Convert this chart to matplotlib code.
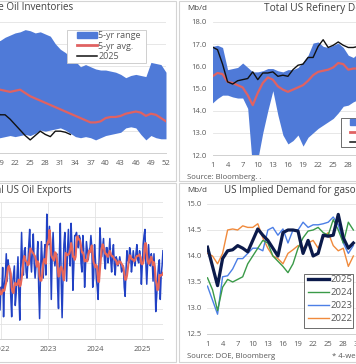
import numpy as np
import pandas as pd
import matplotlib
matplotlib.use("Agg")
import matplotlib.pyplot as plt
from matplotlib.patches import Rectangle, Patch
from matplotlib.lines import Line2D

plt.rcParams['font.family'] = ['Open Sans', 'DejaVu Sans']

W, H = 356, 364

# ---- panel 1: crude inventories (weeks 1..52) ----
weeks = list(range(1, 53))
inv_max = [470, 475, 480, 485, 488, 490, 492, 493, 494, 494, 495, 495, 494, 494, 493, 493, 493, 493,
           493, 496, 498, 500, 501, 503, 502, 500, 501, 499, 497, 490, 485, 482, 478, 474, 469, 471,
           469, 467, 466, 466, 465, 464, 462, 459, 461, 462, 461, 460, 473, 472, 471, 464]
inv_min = [420, 418, 416, 414, 412, 410, 409, 408, 407, 406, 405, 405, 405, 404, 404, 404, 404, 404,
           404, 405, 406, 405, 406, 407, 406, 408, 411, 410, 411, 412, 413, 411, 408, 405, 404, 405,
           404, 402, 404, 406, 407, 408, 409, 413, 414, 413, 407, 402, 406, 404, 403, 403]
inv_avg = [440, 441, 443, 446, 448, 450, 452, 453, 453, 452, 451, 450, 450, 449, 449, 448, 448, 448,
           448, 447, 446, 447, 448, 445, 442, 440, 438, 436, 434, 432, 430, 428, 426, 424, 422, 420,
           418, 418, 419, 422, 423, 423, 424, 426, 427, 428, 427, 424, 426, 425, 422, 419]
inv_2025 = [415, 413, 415, 420, 425, 430, 433, 437, 440, 440, 442, 443, 442, 440, 438, 436, 435, 430,
            425, 425, 421, 416, 411, 406, 402, 406, 410, 407, 405, 410, 410, 409, 407]

# ---- panel 2: refinery demand ----
ref_max = [16.9, 16.95, 16.85, 15.85, 15.9, 15.95, 16.15, 15.95, 15.75, 15.75, 15.8, 15.9, 15.9,
           15.8, 15.75, 15.85, 15.85, 15.95, 16.2, 16.5, 17.05, 17.1, 16.9, 16.85, 16.95, 17.05,
           16.85, 16.5, 16.4, 16.6, 16.7, 16.8, 16.7, 16.6, 16.5, 16.4, 16.3, 16.2, 16.0, 15.9,
           16.1, 16.3, 16.5, 16.6, 16.7, 16.8, 16.9, 16.9, 16.8, 16.7, 16.6, 16.5]
ref_min = [14.35, 14.55, 14.7, 14.7, 14.62, 14.57, 14.57, 14.1, 11.3, 11.8, 13.0, 14.0, 14.9, 13.8,
           12.9, 12.5, 12.65, 12.9, 12.4, 12.8, 13.0, 13.2, 13.35, 13.5, 13.65, 13.9, 14.2, 14.25,
           14.4, 14.5, 14.6, 14.5, 14.4, 14.2, 14.0, 13.8, 13.6, 13.5, 13.6, 13.8, 14.2, 14.5,
           14.7, 14.8, 14.9, 15.0, 15.0, 14.9, 14.8, 14.7, 14.6, 14.5]
ref_avg = [15.55, 15.7, 15.65, 15.3, 15.25, 15.15, 15.05, 14.7, 14.25, 14.8, 15.25, 15.5, 15.4,
           15.1, 14.95, 14.85, 14.95, 15.05, 15.15, 15.35, 15.6, 15.75, 15.8, 15.85, 15.95, 16.15,
           16.1, 15.85, 15.9, 15.9, 15.95, 16.0, 15.95, 15.85, 15.7, 15.5, 15.3, 15.1, 15.0, 15.1,
           15.3, 15.5, 15.7, 15.8, 15.9, 16.0, 16.05, 16.0, 15.95, 15.9, 15.85, 15.8]
ref_2025 = [16.87, 16.75, 16.1, 15.3, 15.2, 15.35, 15.4, 15.45, 15.75, 15.4, 15.7, 15.7, 15.75,
            15.55, 15.6, 15.55, 15.85, 16.05, 16.1, 16.4, 16.4, 16.9, 17.2, 16.85, 16.95, 17.1,
            16.95, 16.85, 16.85, 16.9, 16.8, 16.9, 16.85]

# ---- panel 3: weekly exports (from 2021-11-26) ----
exp_start = '2021-11-26'
exports = [3.0, 3.6, 2.9, 3.3, 2.45, 3.2, 3.0, 3.85, 2.23, 3.3, 3.6, 4.3, 3.4, 4.1, 3.8, 3.8,
           2.9, 2.23, 3.3, 3.6, 3.9, 2.6, 3.0, 3.6, 4.2, 3.0, 2.12, 3.8, 5.0, 3.9, 3.6, 4.4,
           4.5, 3.7, 3.5, 4.0, 4.6, 5.1, 4.2, 3.7, 4.4, 4.95, 4.0, 3.5, 3.9, 4.1, 4.7, 3.2,
           2.17, 3.6, 4.7, 4.1, 3.5, 4.2, 4.6, 3.6, 5.6, 4.9, 4.6, 5.2, 4.4, 2.8, 4.3, 5.0,
           4.2, 3.9, 4.2, 4.3, 3.2, 2.5, 4.3, 5.3, 3.4, 2.2, 3.5, 4.6, 5.0, 4.2, 3.4, 4.4,
           5.1, 4.3, 3.9, 5.3, 4.5, 3.1, 3.9, 4.9, 4.9, 5.0, 4.7, 4.5, 4.9, 4.8, 4.0, 3.7,
           4.9, 4.4, 3.2, 3.9, 4.7, 4.4, 4.1, 4.4, 4.5, 4.9, 4.5, 3.2, 3.5, 4.6, 4.1, 3.5,
           3.2, 2.8, 4.0, 5.15, 4.6, 4.2, 4.5, 4.8, 4.1, 3.8, 4.5, 4.5, 4.0, 4.3, 4.8, 4.1,
           3.7, 4.3, 4.6, 3.9, 3.6, 4.2, 4.1, 3.9, 4.0, 4.2, 4.0, 3.7, 3.8, 3.9, 3.2, 2.9,
           3.8, 4.4, 4.1, 4.0, 4.5, 4.3, 3.7, 4.0, 4.4, 4.1, 3.9, 4.3, 4.6, 4.1, 4.0, 4.4,
           4.2, 3.3, 3.9, 4.6, 4.9, 5.1, 4.0, 3.3, 4.0, 4.6, 4.0, 3.9, 4.3, 4.1, 3.4, 4.3,
           3.6, 2.4, 2.9, 3.5, 3.9, 4.1, 2.8, 3.6, 3.9, 4.4]

# ---- panel 4: implied gasoline demand (4-wk avg), weeks 1..30 ----
gas_2025 = [14.17, 13.8, 13.43, 13.95, 14.1, 14.12, 14.2, 14.15, 14.08, 14.3, 14.52, 14.4, 14.3,
            14.15, 14.0, 14.45, 14.5, 14.5, 14.48, 14.05, 14.3, 14.0, 14.05, 14.4, 14.38, 14.4,
            14.8, 14.35, 14.15, 14.25]
gas_2024 = [13.58, 13.35, 12.95, 13.4, 13.55, 13.5, 13.55, 13.6, 13.85, 14.0, 14.15, 14.3, 14.25,
            14.0, 13.9, 13.8, 13.68, 13.85, 14.15, 14.35, 14.48, 14.5, 14.55, 14.45, 14.4, 14.7,
            14.5, 14.25, 14.65, 14.5]
gas_2023 = [13.42, 13.15, 12.88, 13.6, 13.62, 13.75, 13.95, 13.95, 14.05, 14.15, 14.15, 14.1,
            14.5, 14.55, 14.4, 14.52, 14.25, 14.5, 14.5, 14.65, 14.55, 14.6, 14.6, 14.62, 14.65,
            14.75, 14.6, 14.25, 14.05, 14.2]
gas_2022 = [14.05, 14.0, 13.85, 14.05, 14.5, 14.52, 14.5, 14.58, 14.55, 14.55, 14.62, 14.35,
            14.15, 14.0, 13.95, 13.85, 14.05, 14.12, 14.2, 14.15, 14.25, 14.3, 14.15, 14.35, 14.45,
            14.2, 14.1, 14.15, 13.8, 14.0]

BAND = '#4f7ad8'
AVG = '#e06262'
GRID = '#e3e3e3'
TXT = '#595959'
TITLE = 7.1


def rect(l, t, r, b):
    return [l / W, 1 - b / H, (r - l) / W, (b - t) / H]


def frame(fig, l, t, r, b):
    fig.patches.append(Rectangle((l / W, 1 - b / H), (r - l) / W, (b - t) / H,
                                 transform=fig.transFigure, fill=False,
                                 ec='#d4d4d4', lw=0.8))


def ftext(fig, x, y, s, size=TITLE, ha='left', color='#404040'):
    fig.text(x / W, 1 - y / H, s, ha=ha, va='center', fontsize=size, color=color)


def style(ax, ypad=4.5):
    for s in ['top', 'right', 'left']:
        ax.spines[s].set_visible(False)
    ax.spines['bottom'].set_color('#d0d0d0')
    ax.spines['bottom'].set_linewidth(0.7)
    ax.tick_params(length=0, labelsize=5.5, labelcolor=TXT)
    ax.tick_params(axis='x', pad=5)
    ax.tick_params(axis='y', pad=ypad)
    ax.grid(axis='y', color=GRID, lw=0.6)
    ax.set_axisbelow(True)


def legend_box(ax, handles, labels, box, inset, fs, spacing, hl, edge):
    # white box drawn by hand, legend entries placed inside it
    l, t, r, b = box
    ax.add_patch(Rectangle((l / W, 1 - b / H), (r - l) / W, (b - t) / H,
                           transform=ax.figure.transFigure, fc='white', ec=edge,
                           lw=0.6, zorder=4, clip_on=False))
    lg = ax.legend(handles, labels, loc='upper left',
                   bbox_to_anchor=((l + inset[0]) / W, 1 - (t + inset[1]) / H),
                   bbox_transform=ax.figure.transFigure, fontsize=fs, frameon=False,
                   borderpad=0, labelspacing=spacing, handlelength=hl,
                   handletextpad=0.15, borderaxespad=0)
    lg.set_zorder(5)
    for tx in lg.get_texts():
        tx.set_color(TXT)
    return lg


fig = plt.figure(figsize=(W / 100, H / 100), dpi=100)
frame(fig, -200, 1, 176, 181)
frame(fig, 179, 1, 560, 181)
frame(fig, -200, 183, 176, 362)
frame(fig, 179, 183, 560, 362)

h1 = [Patch(color=BAND), Line2D([], [], color=AVG, lw=2.0), Line2D([], [], color='#111111', lw=1.1)]
lab1 = ['5-yr range', '5-yr avg.', '2025']

# panel 1
ax1 = fig.add_axes(rect(-90.5, 22, 166, 153))
style(ax1)
ax1.fill_between(weeks, inv_min, inv_max, color=BAND, lw=0)
ax1.plot(weeks, inv_avg, color=AVG, lw=1.6)
ax1.plot(weeks[:len(inv_2025)], inv_2025, color='#111111', lw=1.0)
ax1.set_xlim(1, 52)
ax1.set_ylim(390, 510)
ax1.set_yticks(range(390, 511, 20))
ax1.tick_params(axis='y', labelleft=False)
ax1.set_xticks(range(1, 53, 3))
ftext(fig, 73, 8, 'US Commercial Crude Oil Inventories', ha='right')
legend_box(ax1, h1, lab1, (67, 30, 146, 63), (10, 1.2), 6.5, 0.15, 2.2, '#c8c8c8')

# panel 2
ax2 = fig.add_axes(rect(212.5, 22, 469, 155))
style(ax2)
ax2.fill_between(weeks, ref_min, ref_max, color=BAND, lw=0)
ax2.plot(weeks, ref_avg, color=AVG, lw=1.6)
ax2.plot(weeks[:len(ref_2025)], ref_2025, color='#111111', lw=1.0)
ax2.set_xlim(1, 52)
ax2.set_ylim(12, 18)
ax2.set_yticks(np.arange(12, 18.1, 1.0))
ax2.set_yticklabels([f'{v:.1f}' for v in np.arange(12, 18.1, 1.0)])
ax2.set_xticks(range(1, 53, 3))
ftext(fig, 187, 8, 'Mb/d', size=5.8)
ftext(fig, 264, 8, 'Total US Refinery Demand', size=7.3)
ftext(fig, 187, 177, 'Source: Bloomberg. .', size=5.6, color=TXT)
legend_box(ax2, h1, lab1, (341, 118, 440, 147), (9, 0.4), 6.6, 0.09, 2.2, '#555555')

# panel 3
ax3 = fig.add_axes(rect(-45.96, 202, 163.1, 339))
style(ax3)
ax3.grid(axis='x', color=GRID, lw=0.6)
dates = pd.date_range(exp_start, periods=len(exports), freq='7D')
s = pd.Series(exports, index=dates)
ax3.plot(dates, s.values, color='#2141c4', lw=1.1)
ax3.plot(dates, s.rolling(4, min_periods=1).mean().values, color='#e8675a', lw=1.5)
ax3.set_xlim(pd.Timestamp('2021-01-01'), pd.Timestamp('2025-06-14'))
ax3.set_ylim(1.5, 6.0)
ax3.set_yticks(np.arange(1.5, 6.01, 0.5))
ax3.tick_params(axis='y', labelleft=False)
yrs = [pd.Timestamp(f'{y}-01-01') for y in [2021, 2022, 2023, 2024, 2025]]
ax3.set_xticks(yrs)
ax3.set_xticklabels([str(y.year) for y in yrs])
ftext(fig, 72, 190, 'Total US Oil Exports', ha='right')

# panel 4
ax4 = fig.add_axes(rect(207.5, 204, 464, 334))
style(ax4, ypad=4)
gw = weeks[:len(gas_2025)]
ax4.plot(gw, gas_2022, color='#f08a3c', lw=1.0)
ax4.plot(gw, gas_2023, color='#4c7fe6', lw=1.0)
ax4.plot(gw, gas_2024, color='#3a9a48', lw=1.0)
ax4.plot(gw, gas_2025, color='#0b1a4a', lw=2.3)
ax4.set_xlim(1, 52)
ax4.set_ylim(12.5, 15.0)
ax4.set_yticks(np.arange(12.5, 15.01, 0.5))
ax4.set_yticklabels([f'{v:.1f}' for v in np.arange(12.5, 15.01, 0.5)])
ax4.set_xticks(range(1, 53, 3))
ftext(fig, 187, 191, 'Mb/d', size=5.8)
ftext(fig, 224, 190, 'US Implied Demand for gasoline*')
ftext(fig, 187, 356, 'Source: DOE, Bloomberg', size=5.6, color=TXT)
ftext(fig, 332, 356, '* 4-week avg', size=5.6, color=TXT)
h4 = [Line2D([], [], color='#0b1a4a', lw=2.4), Line2D([], [], color='#3a9a48', lw=1.0),
      Line2D([], [], color='#4c7fe6', lw=1.0), Line2D([], [], color='#f08a3c', lw=1.0)]
legend_box(ax4, h4, ['2025', '2024', '2023', '2022'], (304, 274, 353, 328), (4, 1.2),
           6.8, 0.41, 2.2, '#555555')

fig.savefig('out.png', dpi=100)
